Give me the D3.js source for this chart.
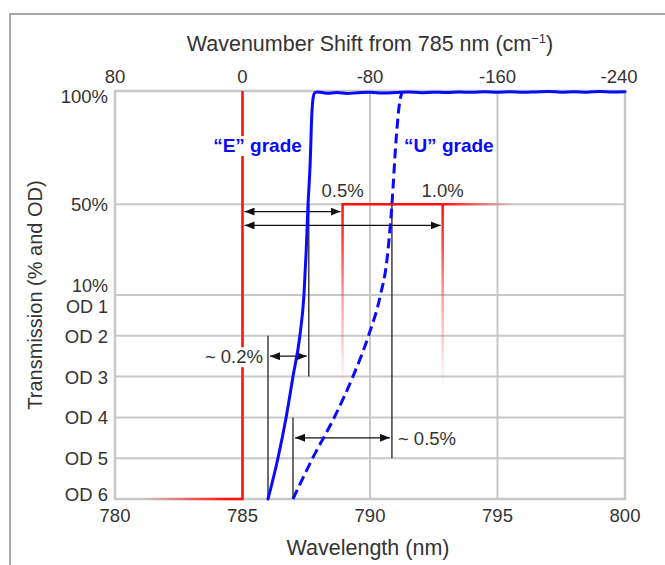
<!DOCTYPE html>
<html>
<head>
<meta charset="utf-8">
<script src="https://d3js.org/d3.v7.min.js"></script>
<style>
  body { margin: 0; background: #fff; }
  text { font-family: "Liberation Sans", Arial, Helvetica, sans-serif; }
</style>
</head>
<body>
<div id="chart"></div>
<script>
// wavelength gridlines (nm) and the rounded wavenumber shift printed over each one
var wavelengthTicks = [780, 785, 790, 795, 800];
var wavenumberLabels = ["80", "0", "-80", "-160", "-240"];

// transmission axis: linear percent above 10%, optical density below
var pctTicks = [100, 50, 10];
var odTicks = [1, 2, 3, 4, 5, 6];

// filter edges, [wavelength nm, transmission %]
var eGrade = [
  [786.00, 0.0001], [786.39, 0.001], [786.71, 0.01], [786.98, 0.1],
  [787.25, 1], [787.41, 10], [787.50, 30], [787.57, 50], [787.65, 67],
  [787.72, 90], [787.77, 97], [787.84, 99.3], [787.95, 99.6],
  [788.3, 99.0], [788.7, 99.3], [789.1, 98.9], [789.5, 99.2], [790.0, 99.4],
  [790.5, 99.1], [791.0, 99.3], [791.5, 99.6], [792.0, 99.2], [792.5, 99.5],
  [793.0, 99.3], [793.5, 99.6], [794.0, 99.4], [794.5, 99.7], [795.0, 99.5],
  [795.5, 99.7], [796.0, 99.4], [796.5, 99.6], [797.0, 99.8], [797.5, 99.5],
  [798.0, 99.7], [798.5, 99.5], [799.0, 99.8], [799.5, 99.6], [800.0, 99.7]
];
var uGrade = [
  [786.98, 0.0001], [787.75, 0.001], [788.60, 0.01], [789.33, 0.1],
  [789.94, 1], [790.41, 10], [790.66, 25], [790.86, 50], [791.02, 78],
  [791.15, 94], [791.25, 99.3]
];

// laser line and the 0.5% / 1.0% edge positions
var laserLine = 785;
var edgeShifts = [0.5, 1.0];
var edgeLabels = ["0.5%", "1.0%"];
var edgeArrowPct = [46.8, 40.7];

// edge steepness markers for each grade (OD = optical density)
var gradeNames = ["\u201cE\u201d grade", "\u201cU\u201d grade"];
var gradeWidths = ["~ 0.2%", "~ 0.5%"];
var gradeHalfPoint = [787.6, 790.86];   // 50% transmission
var gradeBlockPoint = [786.0, 786.98];  // OD 6
var gradeLeftTopOD = [2, 4];
var gradeRightBottomOD = [3, 5];
var gradeArrowOD = [2.5, 4.5];

var odToPct = function(od) { return 100 * Math.pow(10, -od); };

// set the dimensions and margins of the graph
var margin = {top: 91, right: 40, bottom: 66, left: 115};
var dims = {width: 665 - margin.left - margin.right, height: 565 - margin.top - margin.bottom};

var root = d3.select("#chart")
  .append("svg")
    .attr("width", 665)
    .attr("height", 565);

// page frame (left and top edges only)
root.append("path")
  .attr("d", "M10,565V14H665")
  .attr("fill", "none")
  .attr("stroke", "#8c8c8c")
  .attr("stroke-width", 1.5);

var svg = root.append("g")
  .attr("transform", "translate(" + margin.left + "," + margin.top + ")");

var x = d3.scaleLinear().domain([780, 800]).range([0, dims.width]);
var mid = dims.height / 2;
var yPct = d3.scaleLinear().domain([10, 100]).range([mid, 0]);
var yOD = d3.scaleLinear().domain([1, 6]).range([mid, dims.height]);
var y = function(t) { return t >= 10 ? yPct(t) : yOD(-Math.log10(t / 100)); };

var grey = "#c8c8c8", ink = "#333", red = "#ff1010", blue = "#0a0aff";
var tickFont = 18.5;

// grid
svg.selectAll(".vgrid")
  .data(wavelengthTicks)
  .join("line")
    .attr("x1", d => x(d)).attr("x2", d => x(d))
    .attr("y1", 0).attr("y2", dims.height)
    .attr("stroke", grey).attr("stroke-width", 2);
svg.selectAll(".hgrid")
  .data(pctTicks.map(yPct).concat(odTicks.map(yOD)))
  .join("line")
    .attr("x1", 0).attr("x2", dims.width)
    .attr("y1", d => d).attr("y2", d => d)
    .attr("stroke", grey).attr("stroke-width", 2);
svg.append("rect")
  .attr("width", dims.width).attr("height", dims.height)
  .attr("fill", "none").attr("stroke", grey).attr("stroke-width", 2.5);

// axis labels
svg.selectAll(".xlab")
  .data(wavelengthTicks)
  .join("text")
    .attr("x", d => x(d)).attr("y", dims.height + 23)
    .attr("text-anchor", "middle").attr("font-size", tickFont).attr("fill", ink)
    .text(d => d);
svg.selectAll(".toplab")
  .data(wavenumberLabels)
  .join("text")
    .attr("x", (d, i) => x(wavelengthTicks[i]) - (i == wavenumberLabels.length - 1 ? 6 : 0))
    .attr("y", -8)
    .attr("text-anchor", "middle").attr("font-size", tickFont).attr("fill", ink)
    .text(d => d);

var ylabels = pctTicks.map(function(p) { return {text: p + "%", pos: yPct(p)}; })
  .concat(odTicks.map(function(o) { return {text: "OD " + o, pos: yOD(o)}; }));
var nudge = {"100%": 12, "10%": -3, "OD 1": 18, "OD 6": 2};
svg.selectAll(".ylab")
  .data(ylabels)
  .join("text")
    .attr("x", -7)
    .attr("y", d => d.pos + (d.text in nudge ? nudge[d.text] : 7))
    .attr("text-anchor", "end").attr("fill", ink)
    .attr("font-size", d => (d.text == "10%" || d.text == "OD 1") ? 18 : tickFont)
    .text(d => d.text);

var title = root.append("text")
  .attr("x", 370).attr("y", 51)
  .attr("text-anchor", "middle").attr("font-size", 21.5).attr("fill", ink);
title.append("tspan").text("Wavenumber Shift from 785 nm (cm");
title.append("tspan").attr("font-size", 13).attr("dy", -8).text("\u22121");
title.append("tspan").attr("dy", 8).text(")");

root.append("text")
  .attr("x", 368).attr("y", 555)
  .attr("text-anchor", "middle").attr("font-size", 21.5).attr("fill", ink)
  .text("Wavelength (nm)");
root.append("text")
  .attr("transform", "translate(42,295) rotate(-90)")
  .attr("text-anchor", "middle").attr("font-size", 20).attr("fill", ink)
  .text("Transmission (% and OD)");

// gradients for the fading red lines
var defs = root.append("defs");
var addGradient = function(id, x1, y1, x2, y2, stops) {
  defs.append("linearGradient")
    .attr("id", id)
    .attr("gradientUnits", "userSpaceOnUse")
    .attr("x1", x1).attr("y1", y1).attr("x2", x2).attr("y2", y2)
  .selectAll("stop")
    .data(stops)
  .join("stop")
    .attr("offset", d => d[0])
    .attr("stop-color", red)
    .attr("stop-opacity", d => d[1]);
};
addGradient("laserfade", x(781.1), 0, x(784.4), 0, [[0, 0], [1, 1]]);
addGradient("edgedown", 0, y(50), 0, y(odToPct(3.3)), [[0, 1], [0.25, 0.75], [0.5, 0.4], [1, 0]]);
var lastEdge = laserLine * (1 + edgeShifts[edgeShifts.length - 1] / 100);
addGradient("edgeright", x(lastEdge), 0, x(795.7), 0, [[0, 1], [1, 0]]);

// red laser line and edge steps
svg.append("path")
  .attr("d", "M" + x(781.1) + "," + y(odToPct(6)) + "H" + x(laserLine) + "V" + y(100))
  .attr("fill", "none").attr("stroke", "url(#laserfade)").attr("stroke-width", 2.5);
edgeShifts.forEach(function(s, i) {
  var wl = laserLine * (1 + s / 100);
  var d = "M" + x(wl) + "," + y(odToPct(3.3)) + "V" + y(50);
  if (i < edgeShifts.length - 1) d += "H" + x(laserLine * (1 + edgeShifts[i + 1] / 100));
  svg.append("path")
    .attr("d", d)
    .attr("fill", "none").attr("stroke", "url(#edgedown)").attr("stroke-width", 2.5);
});
svg.append("path")
  .attr("d", "M" + x(lastEdge) + "," + y(50) + "H" + x(795.7))
  .attr("fill", "none").attr("stroke", "url(#edgeright)").attr("stroke-width", 2.5);

// arrowheads
defs.append("marker")
  .attr("id", "arrowhead")
  .attr("viewBox", "0 0 10 8")
  .attr("refX", 10).attr("refY", 4)
  .attr("markerWidth", 10).attr("markerHeight", 8)
  .attr("markerUnits", "userSpaceOnUse")
  .attr("orient", "auto-start-reverse")
  .append("path").attr("d", "M0,0L10,4L0,8Z").attr("fill", "#111");

var arrow = function(wl1, wl2, t) {
  svg.append("path")
    .attr("d", "M" + (x(wl1) + 2) + "," + y(t) + "H" + (x(wl2) - 2))
    .attr("stroke", "#111").attr("stroke-width", 1.3)
    .attr("marker-start", "url(#arrowhead)")
    .attr("marker-end", "url(#arrowhead)");
};
var marker = function(wl, t1, t2) {
  svg.append("line")
    .attr("x1", x(wl)).attr("x2", x(wl))
    .attr("y1", y(t1)).attr("y2", y(t2))
    .attr("stroke", "#222").attr("stroke-width", 1.3);
};

edgeShifts.forEach(function(s, i) {
  var wl = laserLine * (1 + s / 100);
  arrow(laserLine, wl, edgeArrowPct[i]);
  svg.append("text")
    .attr("x", x(wl)).attr("y", y(50) - 7)
    .attr("text-anchor", "middle").attr("font-size", tickFont).attr("fill", ink)
    .text(edgeLabels[i]);
});

gradeNames.forEach(function(g, i) {
  marker(gradeBlockPoint[i], odToPct(gradeLeftTopOD[i]), odToPct(6));
  marker(gradeHalfPoint[i], 50, odToPct(gradeRightBottomOD[i]));
  arrow(gradeBlockPoint[i], gradeHalfPoint[i], odToPct(gradeArrowOD[i]));
});

// transmission curves
var line = d3.line()
  .x(d => x(d[0]))
  .y(d => y(d[1]))
  .curve(d3.curveMonotoneX);
svg.append("path")
  .attr("d", line(eGrade))
  .attr("fill", "none").attr("stroke", blue).attr("stroke-width", 3)
  .attr("stroke-linejoin", "round").attr("stroke-linecap", "round");
svg.append("path")
  .attr("d", line(uGrade))
  .attr("fill", "none").attr("stroke", blue).attr("stroke-width", 3)
  .attr("stroke-dasharray", "10,5");

// labels with a white backing where they cross the red line
var backed = function(sel) {
  var bb = sel.node().getBBox();
  svg.insert("rect", function() { return sel.node(); })
    .attr("x", bb.x - 2).attr("y", bb.y + 1)
    .attr("width", bb.width + 4).attr("height", bb.height - 1)
    .attr("fill", "#fff");
};
backed(svg.append("text")
  .attr("x", x(laserLine) + 15).attr("y", y(100) + 61)
  .attr("text-anchor", "middle").attr("font-size", 19).attr("font-weight", "bold").attr("fill", blue)
  .text(gradeNames[0]));
svg.append("text")
  .attr("x", x(uGrade[uGrade.length - 1][0]) + 2).attr("y", y(100) + 61)
  .attr("text-anchor", "start").attr("font-size", 19).attr("font-weight", "bold").attr("fill", blue)
  .text(gradeNames[1]);

backed(svg.append("text")
  .attr("x", x(gradeBlockPoint[0]) - 5).attr("y", y(odToPct(gradeArrowOD[0])) + 7)
  .attr("text-anchor", "end").attr("font-size", tickFont).attr("fill", ink)
  .text(gradeWidths[0]));
svg.append("text")
  .attr("x", x(gradeHalfPoint[1]) + 6).attr("y", y(odToPct(gradeArrowOD[1])) + 7)
  .attr("text-anchor", "start").attr("font-size", tickFont).attr("fill", ink)
  .text(gradeWidths[1]);
</script>
</body>
</html>
